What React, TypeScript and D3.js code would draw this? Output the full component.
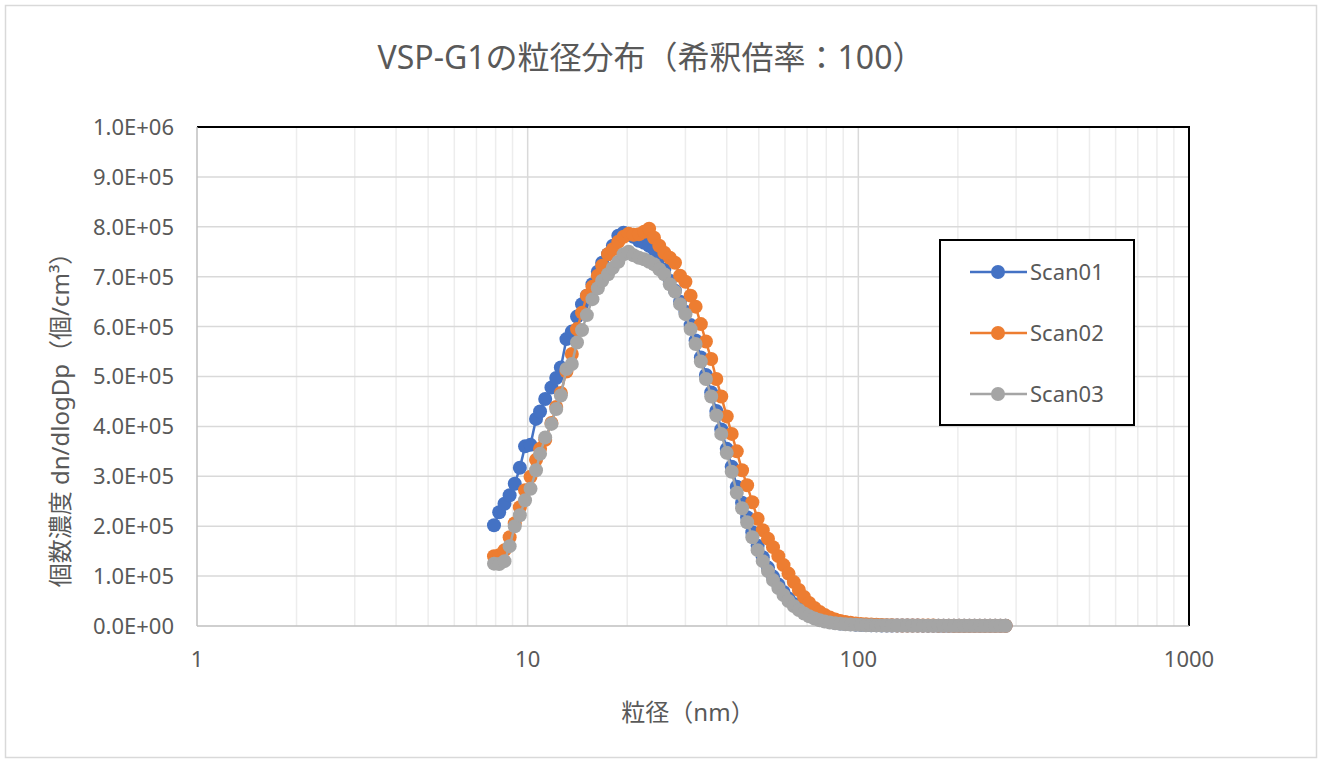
import React from "react";
import * as d3 from "d3";

// SMPS channel midpoints (nm), 64 ch/decade
const diameters = [
  7.91, 8.2, 8.51, 8.82, 9.14, 9.47, 9.82, 10.2, 10.6, 10.9,
  11.3, 11.8, 12.2, 12.6, 13.1, 13.6, 14.1, 14.6, 15.1, 15.7,
  16.3, 16.8, 17.5, 18.1, 18.8, 19.5, 20.2, 20.9, 21.7, 22.5,
  23.3, 24.1, 25.0, 25.9, 26.9, 27.9, 28.9, 30.0, 31.1, 32.2,
  33.4, 34.6, 35.9, 37.2, 38.5, 40.0, 41.4, 42.9, 44.5, 46.1,
  47.8, 49.6, 51.4, 53.3, 55.2, 57.3, 59.4, 61.5, 63.8, 66.1,
  68.5, 71.0, 73.7, 76.4, 79.1, 82.0, 85.1, 88.2, 91.4, 94.7,
  98.2, 101.8, 105.5, 109.4, 113.4, 117.6, 121.9, 126.3, 131.0, 135.8,
  140.7, 145.9, 151.2, 156.8, 162.5, 168.5, 174.7, 181.1, 187.7, 194.6,
  201.7, 209.1, 216.7, 224.7, 232.9, 241.4, 250.3, 259.5, 269.0, 278.8,
];

const scan01 = [
  202000, 228000, 245000, 262000, 285000, 317000, 360000, 363000, 415000, 430000,
  455000, 478000, 497000, 518000, 575000, 590000, 620000, 645000, 662000, 685000,
  710000, 728000, 745000, 762000, 782000, 788000, 785000, 780000, 772000, 768000,
  762000, 755000, 738000, 714000, 692000, 672000, 650000, 630000, 603000, 572000,
  538000, 503000, 468000, 431000, 394000, 355000, 319000, 279000, 247000, 218000,
  188000, 161000, 138000, 117000, 99000, 83000, 68000, 55000, 44000, 35500,
  28000, 22000, 17000, 13500, 10500, 8200, 6500, 5100, 4000, 3300,
  2700, 2200, 1850, 1550, 1350, 1200, 1080, 1000, 950, 900,
  850, 800, 780, 750, 700, 680, 650, 620, 600, 580,
  560, 540, 520, 500, 480, 470, 450, 440, 420, 400,
];

const scan02 = [
  140000, 142000, 152000, 178000, 206000, 238000, 272000, 299000, 333000, 355000,
  373000, 407000, 439000, 467000, 510000, 545000, 595000, 628000, 662000, 680000,
  702000, 722000, 745000, 755000, 770000, 780000, 786000, 784000, 785000, 790000,
  796000, 778000, 762000, 748000, 738000, 728000, 702000, 690000, 662000, 640000,
  605000, 570000, 535000, 495000, 460000, 420000, 385000, 350000, 312000, 282000,
  248000, 215000, 192000, 175000, 158000, 140000, 122000, 105000, 88000, 72000,
  58000, 46000, 36000, 28000, 22000, 17000, 13000, 10000, 8000, 6500,
  5200, 4200, 3400, 2800, 2300, 1900, 1600, 1400, 1250, 1100,
  1000, 950, 900, 850, 800, 760, 720, 690, 660, 630,
  600, 580, 560, 540, 520, 500, 480, 460, 440, 420,
];

const scan03 = [
  125000, 124000, 130000, 160000, 200000, 222000, 252000, 275000, 312000, 345000,
  378000, 405000, 435000, 462000, 515000, 525000, 568000, 593000, 623000, 655000,
  677000, 692000, 705000, 718000, 730000, 745000, 750000, 743000, 738000, 735000,
  730000, 725000, 715000, 705000, 685000, 670000, 645000, 625000, 595000, 565000,
  530000, 495000, 460000, 422000, 385000, 347000, 309000, 267000, 236000, 208000,
  178000, 152000, 130000, 110000, 92000, 76000, 62000, 50000, 40000, 32000,
  25000, 19500, 15000, 11500, 9000, 7000, 5500, 4300, 3400, 2800,
  2300, 1900, 1600, 1400, 1200, 1100, 1000, 920, 860, 800,
  760, 720, 690, 660, 630, 600, 580, 560, 540, 520,
  500, 480, 470, 450, 440, 420, 410, 400, 390, 380,
];

const seriesNames = ["Scan01", "Scan02", "Scan03"];
const seriesColors = ["#4472C4", "#ED7D31", "#A5A5A5"];

const xTicks = [1, 10, 100, 1000];
const xTickLabels = ["1", "10", "100", "1000"];
const yTicks = [0, 100000, 200000, 300000, 400000, 500000, 600000, 700000, 800000, 900000, 1000000];
const yTickLabels = [
  "0.0E+00", "1.0E+05", "2.0E+05", "3.0E+05", "4.0E+05", "5.0E+05",
  "6.0E+05", "7.0E+05", "8.0E+05", "9.0E+05", "1.0E+06",
];

const FONT = "'Noto Sans', 'Noto Sans CJK JP', sans-serif";
const TEXT = "#595959";
const width = 1323;
const height = 762;
const plot = { left: 197, right: 1189, top: 127, bottom: 626 };

export default function App() {
  const x = d3.scaleLog().domain([1, 1000]).range([plot.left, plot.right]);
  const y = d3.scaleLinear().domain([0, 1000000]).range([plot.bottom, plot.top]);

  // minor gridlines 2..9 in each decade
  const minorX: number[] = [];
  [1, 10, 100].forEach((k) => {
    for (let m = 2; m <= 9; m++) minorX.push(k * m);
  });

  const line = d3
    .line<number>()
    .x((d, i) => x(diameters[i]))
    .y((d) => y(d));

  const allSeries = [scan01, scan02, scan03];
  const legendRows = [272, 333, 394];

  return (
    <div style={{ position: "absolute", left: 0, top: 0 }}>
      <svg width={width} height={height} style={{ display: "block", fontFamily: FONT }}>
        <rect x={0} y={0} width={width} height={height} fill="#fff" />
        <rect x={5.5} y={5.5} width={1311} height={752} fill="#fff" stroke="#d9d9d9" strokeWidth={1.5} />

        {/* title */}
        <text x={651} y={57} dy="0.36em" textAnchor="middle" fontSize={32} fill={TEXT}>
          VSP-G1の粒径分布（希釈倍率：100）
        </text>

        {/* grid */}
        {minorX.map((v) => (
          <line key={"mx" + v} x1={x(v)} x2={x(v)} y1={plot.top} y2={plot.bottom} stroke="#ededed" strokeWidth={1.5} />
        ))}
        {[10, 100].map((v) => (
          <line key={"Mx" + v} x1={x(v)} x2={x(v)} y1={plot.top} y2={plot.bottom} stroke="#d9d9d9" strokeWidth={1.5} />
        ))}
        {yTicks.slice(1, -1).map((v) => (
          <line key={"gy" + v} x1={plot.left} x2={plot.right} y1={y(v)} y2={y(v)} stroke="#d9d9d9" strokeWidth={1.5} />
        ))}

        {/* plot border / axes */}
        <line x1={plot.left} x2={plot.right + 1} y1={plot.top} y2={plot.top} stroke="#000" strokeWidth={2} />
        <line x1={plot.right} x2={plot.right} y1={plot.top} y2={plot.bottom} stroke="#000" strokeWidth={2} />
        <line x1={plot.left} x2={plot.left} y1={plot.top} y2={plot.bottom} stroke="#bfbfbf" strokeWidth={1.5} />
        <line x1={plot.left} x2={plot.right} y1={plot.bottom} y2={plot.bottom} stroke="#bfbfbf" strokeWidth={1.5} />

        {/* tick labels */}
        {yTicks.map((v, i) => (
          <text key={"yt" + v} x={174} y={y(v)} dy="0.36em" textAnchor="end" fontSize={22} fill={TEXT}>
            {yTickLabels[i]}
          </text>
        ))}
        {xTicks.map((v, i) => (
          <text key={"xt" + v} x={x(v)} y={659} dy="0.36em" textAnchor="middle" fontSize={22} fill={TEXT}>
            {xTickLabels[i]}
          </text>
        ))}

        {/* axis titles */}
        <text x={688} y={712} dy="0.36em" textAnchor="middle" fontSize={24} fill={TEXT}>
          粒径（nm）
        </text>
        <text
          transform="translate(60,414) rotate(-90)"
          dy="0.36em"
          textAnchor="middle"
          fontSize={24}
          fill={TEXT}
        >
          個数濃度 dn/dlogDp（個/cm³）
        </text>

        {/* series */}
        {allSeries.map((s, si) => (
          <g key={seriesNames[si]}>
            <path d={line(s) || ""} fill="none" stroke={seriesColors[si]} strokeWidth={2.5} />
            {s.map((v, i) => (
              <circle key={i} cx={x(diameters[i])} cy={y(v)} r={7} fill={seriesColors[si]} />
            ))}
          </g>
        ))}

        {/* legend */}
        <rect x={940} y={240} width={194} height={185} fill="#fff" stroke="#000" strokeWidth={2} />
        {seriesNames.map((name, i) => (
          <g key={"lg" + name}>
            <line x1={970} x2={1027} y1={legendRows[i]} y2={legendRows[i]} stroke={seriesColors[i]} strokeWidth={2.5} />
            <circle cx={998} cy={legendRows[i]} r={7} fill={seriesColors[i]} />
            <text x={1030} y={legendRows[i]} dy="0.36em" fontSize={22} fill={TEXT}>
              {name}
            </text>
          </g>
        ))}
      </svg>
    </div>
  );
}
